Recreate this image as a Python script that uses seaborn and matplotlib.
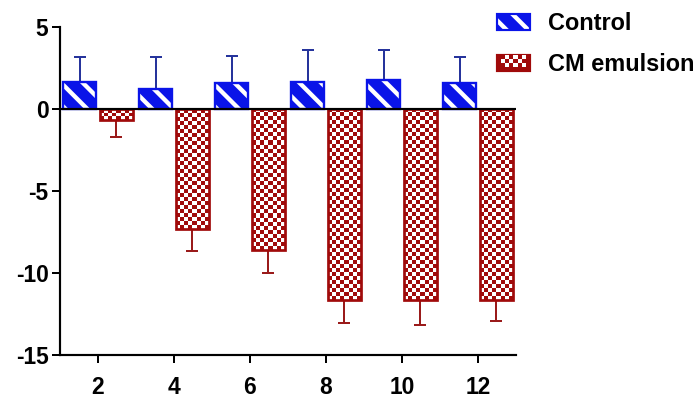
import numpy as np
import pandas as pd
import matplotlib
matplotlib.use("Agg")
import matplotlib.pyplot as plt
import seaborn as sns
from matplotlib.colors import ListedColormap
from matplotlib.patches import Rectangle, Patch
from matplotlib.legend_handler import HandlerPatch

# ---- data ----
weeks = ["2", "4", "6", "8", "10", "12"]
control_mean = [1.65, 1.25, 1.6, 1.65, 1.75, 1.6]
control_sd = [1.55, 1.95, 1.65, 1.95, 1.85, 1.6]
cm_mean = [-0.65, -7.3, -8.6, -11.65, -11.65, -11.65]
cm_sd = [1.05, 1.35, 1.4, 1.4, 1.5, 1.25]
groups = ["Control", "CM emulsion"]
yticks = [-15, -10, -5, 0, 5]

BLUE = "#0a14e8"
BLUE_ERR = "#25339c"
RED = "#a00a0a"
RED_ERR = "#9a1a1a"

sns.set_theme(style="white")
plt.rcParams["font.family"] = ["Liberation Sans", "DejaVu Sans"]
plt.rcParams["font.weight"] = "bold"
plt.rcParams["hatch.linewidth"] = 2.4
plt.rcParams["text.color"] = "black"
plt.rcParams["xtick.color"] = "black"
plt.rcParams["ytick.color"] = "black"

DPI = 130
FS = 12.6
fig = plt.figure(figsize=(697 / DPI, 407 / DPI), dpi=DPI)
ax = fig.add_axes([60 / 697, 52 / 407, (516 - 60) / 697, (355 - 27) / 407])

df = pd.DataFrame({
    "week": weeks * 2,
    "value": control_mean + cm_mean,
    "group": [groups[0]] * len(weeks) + [groups[1]] * len(weeks),
})

sns.barplot(data=df, x="week", y="value", hue="group", order=weeks,
            hue_order=groups, palette={groups[0]: BLUE, groups[1]: RED},
            width=0.96, gap=0.1, errorbar=None, legend=False, ax=ax,
            saturation=1)

ax.set_xlim(-0.5, len(weeks) - 0.5)
ax.set_ylim(-15, 5)

ctrl_bars = ax.containers[0]
cm_bars = ax.containers[1]

# error bars (one-sided)
cx = [p.get_x() + p.get_width() / 2 for p in ctrl_bars]
mx = [p.get_x() + p.get_width() / 2 for p in cm_bars]
ax.errorbar(cx, control_mean, yerr=[[0] * len(control_sd), control_sd],
            fmt="none", ecolor=BLUE_ERR, elinewidth=1.1, capsize=3.4,
            capthick=1.1, zorder=1)
ax.errorbar(mx, cm_mean, yerr=[cm_sd, [0] * len(cm_sd)],
            fmt="none", ecolor=RED_ERR, elinewidth=1.1, capsize=3.4,
            capthick=1.1, zorder=1)

# control: blue with white diagonal stripes
for p in ctrl_bars:
    p.set_facecolor(BLUE)
    p.set_edgecolor("white")
    p.set_linewidth(0)
    p.set_hatch("\\\\")
    p.set_zorder(2)
    ax.add_patch(Rectangle((p.get_x(), p.get_y()), p.get_width(), p.get_height(),
                           fill=False, ec=BLUE, lw=1.3, zorder=3))

# CM: red/white checkerboard
fig.canvas.draw()
cmap = ListedColormap([RED, "white"])
cell = 4.0
for p in cm_bars:
    p.set_facecolor(RED)
    p.set_linewidth(0)
    p.set_zorder(2)
    x0, x1 = p.get_x(), p.get_x() + p.get_width()
    ya, yb = p.get_y(), p.get_y() + p.get_height()
    y0, y1 = min(ya, yb), max(ya, yb)
    (px0, py0), (px1, py1) = ax.transData.transform([(x0, y0), (x1, y1)])
    nx = max(1, int(round(abs(px1 - px0) / cell)))
    ny = max(1, int(round(abs(py1 - py0) / cell)))
    ii, jj = np.indices((ny, nx))
    arr = ((ii + jj) % 2).astype(float)
    im = ax.imshow(arr, extent=(x0, x1, y0, y1), origin="upper", cmap=cmap,
                   vmin=0, vmax=1, interpolation="nearest", aspect="auto",
                   zorder=2.5)
    im.set_clip_path(p)
    ax.add_patch(Rectangle((x0, y0), x1 - x0, y1 - y0, fill=False, ec=RED,
                           lw=1.5, zorder=3))

ax.set_xlim(-0.5, len(weeks) - 0.5)
ax.set_ylim(-15, 5)
ax.set_aspect("auto")

ax.axhline(0, color="black", lw=1.2, zorder=4)

# axes styling
for s in ["top", "right"]:
    ax.spines[s].set_visible(False)
for s in ["left", "bottom"]:
    ax.spines[s].set_color("black")
    ax.spines[s].set_linewidth(1.2)
    ax.spines[s].set_zorder(5)

ax.set_yticks(yticks)
ax.set_yticklabels([str(t) for t in yticks])
ax.set_xlabel("")
ax.set_ylabel("")
ax.tick_params(axis="y", direction="out", length=4.4, width=1.1, pad=2,
               labelsize=FS, left=True, colors="black")
ax.tick_params(axis="x", direction="out", length=4.4, width=1.1, pad=7,
               labelsize=FS, bottom=True, colors="black")
ax.set_xticks([-0.5, len(weeks) - 0.5], minor=True)
ax.tick_params(axis="x", which="minor", direction="inout", length=6, width=1.1)
for lab in ax.get_xticklabels() + ax.get_yticklabels():
    lab.set_fontweight("bold")


class StripeHandler(HandlerPatch):
    def create_artists(self, legend, orig_handle, xdescent, ydescent, width,
                       height, fontsize, trans):
        base = Rectangle((-xdescent, -ydescent), width, height, fc=BLUE,
                         ec="white", lw=0, hatch="\\\\", transform=trans)
        edge = Rectangle((-xdescent, -ydescent), width, height, fill=False,
                         ec=BLUE, lw=1.2, transform=trans)
        return [base, edge]


class CheckerHandler(HandlerPatch):
    def create_artists(self, legend, orig_handle, xdescent, ydescent, width,
                       height, fontsize, trans):
        arts = []
        base = Rectangle((-xdescent, -ydescent), width, height, fc=RED, ec=RED,
                         lw=1.2, transform=trans)
        arts.append(base)
        nx, ny = 8, 4
        cw, ch = width / nx, height / ny
        for i in range(ny):
            for j in range(nx):
                if (i + j) % 2 == 1 and 0 < i < ny and 0 < j < nx - 1:
                    arts.append(Rectangle((-xdescent + j * cw, -ydescent + i * ch),
                                          cw, ch, fc="white", ec="none",
                                          transform=trans))
        return arts


h_ctrl = Patch(facecolor=BLUE, edgecolor=BLUE)
h_cm = Patch(facecolor=RED, edgecolor=RED)
leg = fig.legend([h_ctrl, h_cm], groups, loc="upper left",
                 bbox_to_anchor=(497 / 697, 1 - 12 / 407),
                 frameon=False, borderpad=0, borderaxespad=0,
                 handlelength=1.4, handleheight=0.68, handletextpad=0.77,
                 labelspacing=0.77,
                 prop={"weight": "bold", "size": 13},
                 handler_map={h_ctrl: StripeHandler(), h_cm: CheckerHandler()})
for t in leg.get_texts():
    t.set_color("black")

fig.savefig("out.png", dpi=DPI)
